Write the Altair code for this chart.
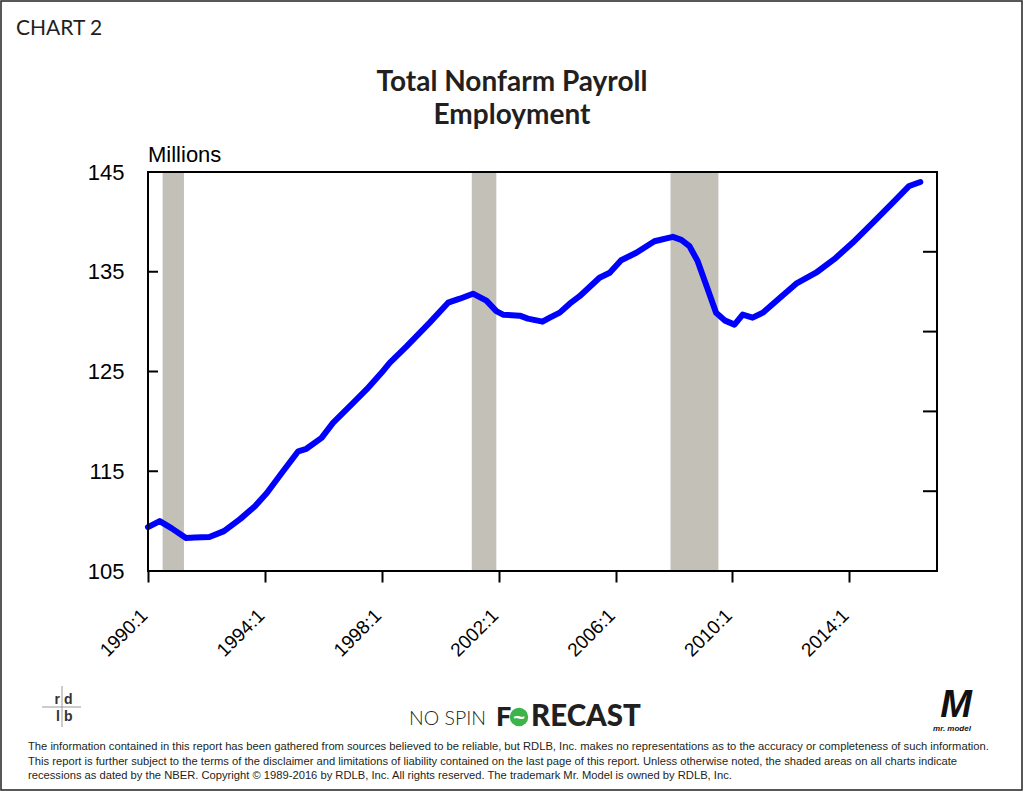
import altair as alt
import pandas as pd

# ---- data ----
years = [1990.0, 1990.4, 1990.8, 1991.3, 1991.6, 1992.1, 1992.6, 1993.15, 1993.66, 1994.06,
         1994.57, 1995.14, 1995.42, 1995.94, 1996.33, 1997.02, 1997.48, 1997.99, 1998.27, 1998.84,
         1999.64, 2000.27, 2000.67, 2001.12, 2001.58, 2001.92, 2002.15, 2002.72, 2003.0, 2003.5,
         2003.75, 2004.09, 2004.43, 2004.77, 2005.45, 2005.8, 2006.19, 2006.71, 2007.33, 2007.96,
         2008.25, 2008.53, 2008.81, 2009.16, 2009.44, 2009.75, 2010.07, 2010.35, 2010.69, 2011.04,
         2011.49, 2012.18, 2012.86, 2013.54, 2014.11, 2014.8, 2015.48, 2016.05, 2016.43]
payroll = [109.4, 110.0, 109.3, 108.3, 108.35, 108.4, 109.0, 110.2, 111.5, 112.8,
           114.8, 117.0, 117.25, 118.35, 119.85, 121.85, 123.2, 124.87, 125.87, 127.5,
           129.9, 131.9, 132.3, 132.8, 132.1, 131.05, 130.7, 130.6, 130.3, 130.0,
           130.4, 130.9, 131.8, 132.55, 134.4, 134.9, 136.16, 136.9, 138.06, 138.5,
           138.2, 137.56, 136.06, 133.2, 130.9, 130.1, 129.7, 130.7, 130.4, 130.9,
           132.05, 133.8, 134.9, 136.4, 137.9, 139.9, 141.9, 143.6, 144.0]

rec_start = [1990.5, 2001.08, 2007.88]
rec_end = [1991.23, 2001.92, 2009.52]

x_ticks = [1990, 1994, 1998, 2002, 2006, 2010, 2014]
y_ticks = [105, 115, 125, 135, 145]
right_ticks = [113, 121, 129, 137]

title_lines = ["Total Nonfarm Payroll", "Employment"]
disclaimer = [
    "The information contained in this report has been gathered from sources believed to be reliable, but RDLB, Inc. makes no representations as to the accuracy or completeness of such information.",
    "This report is further subject to the terms of the disclaimer and limitations of liability contained on the last page of this report.  Unless otherwise noted, the shaded areas on all charts indicate",
    "recessions as dated by the NBER. Copyright \u00a9 1989-2016 by RDLB, Inc.  All rights reserved.  The trademark Mr. Model is owned by RDLB, Inc.",
]

# ---- layout ----
L, T = 148, 172
W, H = 789, 399
FONT = "Liberation Sans"

series = pd.DataFrame({"year": years, "value": payroll})
bands = pd.DataFrame({"start": rec_start, "end": rec_end})

xscale = alt.Scale(domain=[1990, 2017], nice=False, zero=False)
yscale = alt.Scale(domain=[105, 145], nice=False, zero=False)
xaxis = alt.Axis(values=x_ticks, labelExpr="datum.value + ':1'", title=None, grid=False,
                 domain=False, tickSize=11, tickWidth=2, tickColor="black",
                 labelAngle=315, labelAlign="right", labelBaseline="middle", labelOffset=-4,
                 labelPadding=30, labelFont=FONT, labelFontSize=19, labelColor="black")
yaxis = alt.Axis(values=y_ticks, title=None, grid=False, domain=False, ticks=False,
                 labelPadding=24, labelFont=FONT, labelFontSize=22, labelColor="black")

band_layer = alt.Chart(bands).mark_rect(color="#c3c0b8").encode(
    x=alt.X("start:Q", scale=xscale, axis=xaxis),
    x2="end:Q",
    y=alt.value(1), y2=alt.value(H - 1),
)

line_layer = alt.Chart(series).mark_line(color="#0000ff", strokeWidth=6,
                                         strokeCap="round", strokeJoin="round").encode(
    x=alt.X("year:Q", scale=xscale, axis=xaxis),
    y=alt.Y("value:Q", scale=yscale, axis=yaxis),
)

left_ticks = alt.Chart(pd.DataFrame({"v": y_ticks})).mark_rule(color="black", strokeWidth=2).encode(
    y=alt.Y("v:Q", scale=yscale, axis=yaxis),
    x=alt.value(0), x2=alt.value(10),
)
right_tick_layer = alt.Chart(pd.DataFrame({"v": right_ticks})).mark_rule(color="black", strokeWidth=2).encode(
    y=alt.Y("v:Q", scale=yscale, axis=yaxis),
    x=alt.value(W - 14), x2=alt.value(W),
)

one = alt.Data(values=[{}])


def box(x1, y1, x2, y2, width, color="black"):
    return alt.Chart(one).mark_rect(fillOpacity=0, stroke=color, strokeWidth=width).encode(
        x=alt.value(x1 - L), x2=alt.value(x2 - L), y=alt.value(y1 - T), y2=alt.value(y2 - T))


def text(s, x, y, size, font=FONT, weight="normal", align="left", color="black", style="normal"):
    return alt.Chart(one).mark_text(
        font=font, fontSize=size, fontWeight=weight, align=align, baseline="alphabetic",
        color=color, fontStyle=style
    ).encode(x=alt.value(x - L), y=alt.value(y - T), text=alt.value(s))


def seg(x1, y1, x2, y2, color, width):
    return alt.Chart(one).mark_rule(color=color, strokeWidth=width).encode(
        x=alt.value(x1 - L), x2=alt.value(x2 - L), y=alt.value(y1 - T), y2=alt.value(y2 - T))


plot_border = box(L, T, L + W, T + H, 2)
page_border = box(1, 1, 1022, 790, 1.5, "#222222")

decor = [
    text("CHART 2", 16, 35, 21, font="Lato", color="#231f20"),
    text(title_lines[0], 512, 91, 28, font="Lato", weight="bold", align="center", color="#231f20"),
    text(title_lines[1], 512, 124, 28, font="Lato", weight="bold", align="center", color="#231f20"),
    text("Millions", 148, 162, 22),
    # rdlb logo
    seg(62, 686, 62, 727, "#9a9a9a", 1),
    seg(42, 707, 81, 707, "#9a9a9a", 1),
    text("r", 60, 704, 14, weight="bold", align="right", color="#333333"),
    text("d", 64, 704, 14, weight="bold", color="#333333"),
    text("l", 60, 721, 14, weight="bold", align="right", color="#333333"),
    text("b", 64, 721, 14, weight="bold", color="#333333"),
    # NO SPIN FORECAST
    text("NO SPIN", 409, 725, 19.5, font="Lato", weight=300, color="#231f20"),
    text("F", 496, 726, 27, font="Lato", weight=900, color="#231f20"),
    alt.Chart(one).mark_point(filled=True, color="#3cb44b", size=340, opacity=1, shape="circle").encode(
        x=alt.value(519 - L), y=alt.value(717 - T)),
    text("~", 519, 724, 20, weight="bold", align="center", color="white"),
    text("RECAST", 531, 726, 29.5, font="Lato", weight=900, color="#231f20"),
    # Mr. Model logo
    text("M", 956, 717, 38, weight="bold", align="center", style="italic", color="#111111"),
    text("mr. model", 952, 731, 8, weight="bold", align="center", style="italic", color="#111111"),
]
for i, line in enumerate(disclaimer):
    decor.append(text(line, 28, 750 + i * 14.5, 11.2, color="#231f20"))

chart = alt.layer(
    band_layer, line_layer, left_ticks, right_tick_layer, plot_border, page_border, *decor
).properties(
    width=W, height=H,
    autosize=alt.AutoSizeParams(type="none"),
    padding={"left": L, "top": T, "right": 1024 - L - W, "bottom": 792 - T - H},
).configure_view(stroke=None).configure(background="white")

chart.save("out.html", embed_options={"renderer": "svg", "actions": False})
